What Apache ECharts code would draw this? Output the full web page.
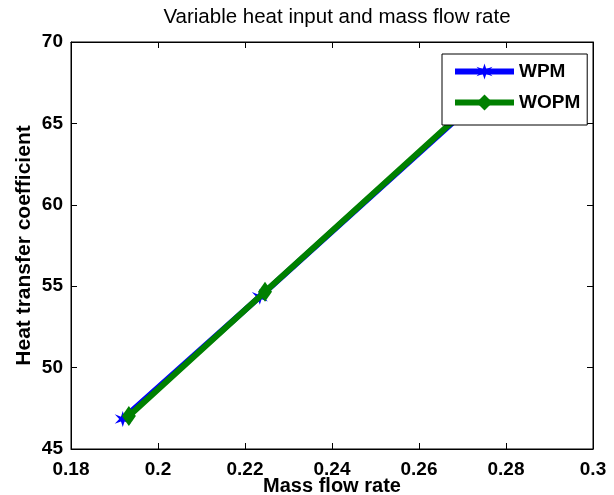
<!DOCTYPE html>
<html><head><meta charset="utf-8">
<script src="https://cdn.jsdelivr.net/npm/echarts@6/dist/echarts.min.js"></script>
<style>html,body{margin:0;padding:0;background:#fff}#c{width:614px;height:495px}</style>
</head><body><div id="c"></div>
<script>
var xTicks = [0.18, 0.2, 0.22, 0.24, 0.26, 0.28, 0.3];
var yTicks = [45, 50, 55, 60, 65, 70];
var massFlowWPM = [0.1919, 0.2234, 0.2750];
var htcWPM = [46.84, 54.35, 66.8];
var massFlowWOPM = [0.1933, 0.2246, 0.2755];
var htcWOPM = [47.03, 54.66, 67.0];
var seriesNames = ['WPM', 'WOPM'];

var FONT = '"Liberation Sans", Arial, sans-serif';
var star = 'path://M0,-10 L2,-3 L9,-6 L4,0 L9,6 L2,3 L0,10 L-2,3 L-9,6 L-4,0 L-9,-6 L-2,-3 Z';

function pairs(xs, ys){ return xs.map(function(x,i){ return [x, ys[i]]; }); }

var chart = echarts.init(document.getElementById('c'), null, {renderer:'canvas'});
var axisCommon = {
  axisLine:{show:true, onZero:false, lineStyle:{color:'#000', width:1}},
  axisTick:{show:true, inside:true, length:6, lineStyle:{color:'#000'}},
  splitLine:{show:false}
};
chart.setOption({
  animation:false,
  title:{text:'Variable heat input and mass flow rate', left:332, textAlign:'center', top:2,
    textStyle:{fontFamily:FONT, fontSize:20.5, fontWeight:'normal', color:'#000'}},
  grid:{left:71, right:21, top:42, bottom:46, show:true, borderColor:'#000', borderWidth:1,
    containLabel:false, outerBoundsMode:'none'},
  legend:{
    data:seriesNames, orient:'vertical', left:442, top:54, itemWidth:59, itemHeight:20, itemGap:12,
    padding:[8,7,13,10], borderColor:'#000', borderWidth:1, backgroundColor:'#fff',
    lineStyle:{width:6},
    textStyle:{fontFamily:FONT, fontSize:19, fontWeight:'bold', color:'#000'}
  },
  xAxis:[
    Object.assign({type:'value', min:0.18, max:0.3, interval:0.02, position:'bottom',
      name:'Mass flow rate', nameLocation:'middle', nameGap:27, nameMoveOverlap:false,
      nameTextStyle:{fontFamily:FONT, fontSize:20, fontWeight:'bold', color:'#000'},
      axisLabel:{fontFamily:FONT, fontSize:19, fontWeight:'bold', color:'#000', margin:11,
        formatter:function(v){ return String(+v.toFixed(2)); }}}, axisCommon),
    Object.assign({type:'value', min:0.18, max:0.3, interval:0.02, position:'top', axisLabel:{show:false}}, axisCommon)
  ],
  yAxis:[
    Object.assign({type:'value', min:45, max:70, interval:5, position:'left',
      name:'Heat transfer coefficient', nameLocation:'middle', nameGap:36, nameMoveOverlap:false,
      nameTextStyle:{fontFamily:FONT, fontSize:21, fontWeight:'bold', color:'#000'},
      axisLabel:{fontFamily:FONT, fontSize:19, fontWeight:'bold', color:'#000', margin:8}}, axisCommon),
    Object.assign({type:'value', min:45, max:70, interval:5, position:'right', axisLabel:{show:false}}, axisCommon)
  ],
  series:[
    {name:seriesNames[0], type:'line', data:pairs(massFlowWPM, htcWPM), symbol:star, symbolSize:16,
     lineStyle:{color:'#0000ff', width:6}, itemStyle:{color:'#0000ff'}, z:2},
    {name:seriesNames[1], type:'line', data:pairs(massFlowWOPM, htcWOPM), symbol:'diamond', symbolSize:[14,20],
     lineStyle:{color:'#008000', width:6}, itemStyle:{color:'#008000'}, z:3}
  ]
});
</script></body></html>
